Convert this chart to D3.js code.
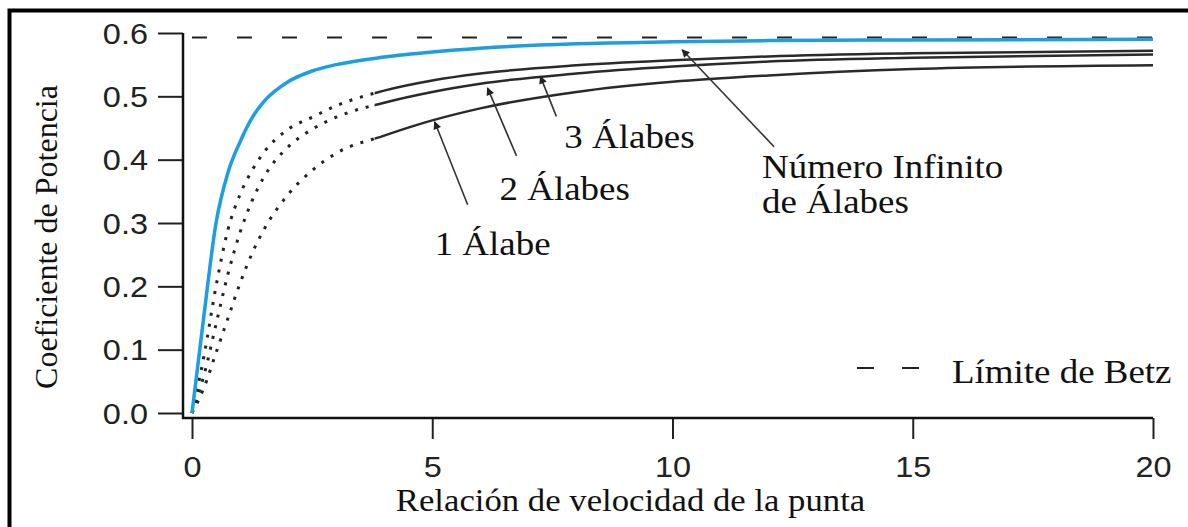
<!DOCTYPE html>
<html>
<head>
<meta charset="utf-8">
<script src="https://cdn.jsdelivr.net/npm/d3@7"></script>
<style>
  body { margin: 0; background: #fff; }
  svg { display: block; }
</style>
</head>
<body>
<svg id="chart" width="1188" height="527"></svg>
<script>
// Tip speed ratio samples and power coefficient for each rotor type
const tsr = [0, 0.25, 0.5, 0.75, 1, 1.25, 1.5, 2, 2.5, 3, 4, 5, 6, 8, 10, 12, 15, 20];
const cpInfinite = [0, 0.155, 0.300, 0.380, 0.428, 0.466, 0.492, 0.523, 0.540, 0.550, 0.562, 0.570, 0.576, 0.583, 0.586, 0.588, 0.589, 0.590];
const cpThree    = [0, 0.090, 0.200, 0.290, 0.345, 0.383, 0.412, 0.448, 0.467, 0.485, 0.509, 0.525, 0.536, 0.549, 0.557, 0.563, 0.568, 0.572];
const cpTwo      = [0, 0.060, 0.140, 0.220, 0.285, 0.335, 0.373, 0.420, 0.448, 0.467, 0.490, 0.507, 0.520, 0.536, 0.547, 0.555, 0.561, 0.566];
const cpOne      = [0, 0.040, 0.095, 0.150, 0.205, 0.252, 0.290, 0.345, 0.383, 0.410, 0.438, 0.462, 0.481, 0.507, 0.523, 0.533, 0.543, 0.549];
const betzLimit = 0.593;

const xTicks = [0, 5, 10, 15, 20];
const yTicks = [0, 0.1, 0.2, 0.3, 0.4, 0.5, 0.6];
const xTitle = "Relación de velocidad de la punta";
const yTitle = "Coeficiente de Potencia";
const legendLabel = "Límite de Betz";
// below this ratio the finite-blade curves are drawn dotted
const dottedUntil = 3.8;

const svg = d3.select("#chart");
const serif = "'Liberation Serif', 'Times New Roman', serif";
const sans = "'Liberation Sans', Arial, sans-serif";
const stretch = 1.12;

const x = d3.scaleLinear().domain([0, 20]).range([192, 1153]);
const y = d3.scaleLinear().domain([0, 0.6]).range([413, 33]);

// outer frame
svg.append("rect")
  .attr("x", 9.5).attr("y", 10.5).attr("width", 1250).attr("height", 600)
  .attr("fill", "none").attr("stroke", "#000").attr("stroke-width", 4);

const axisX0 = 183;   // y axis line position
const axisY0 = 418;   // x axis line position

// Y axis
const yAxis = svg.append("g")
  .attr("transform", `translate(${axisX0},0)`)
  .call(d3.axisLeft(y).tickValues(yTicks).tickSize(25).tickSizeOuter(0).tickFormat(d3.format(".1f")));
yAxis.select(".domain").remove();
yAxis.selectAll(".tick line").attr("stroke", "#222").attr("stroke-width", 2);
yAxis.selectAll(".tick text")
  .attr("x", null).attr("dy", null)
  .attr("transform", `translate(-35,10) scale(${stretch},1)`)
  .attr("font-family", sans).attr("font-size", 29).attr("fill", "#222");

// X axis
const xAxis = svg.append("g")
  .attr("transform", `translate(0,${axisY0})`)
  .call(d3.axisBottom(x).tickValues(xTicks).tickSize(21).tickSizeOuter(0).tickFormat(d3.format("d")));
xAxis.select(".domain").remove();
xAxis.selectAll(".tick line").attr("stroke", "#222").attr("stroke-width", 2);
xAxis.selectAll(".tick text")
  .attr("y", null).attr("dy", null)
  .attr("transform", `translate(0,59) scale(${stretch},1)`)
  .attr("font-family", sans).attr("font-size", 29).attr("fill", "#222");

// L-shaped axis lines
svg.append("path")
  .attr("d", `M${axisX0},${y(0.6)}V${axisY0}H${x(20)}`)
  .attr("fill", "none").attr("stroke", "#111").attr("stroke-width", 2.5);

// axis titles
svg.append("text")
  .attr("transform", `translate(${(x(0) + x(20)) / 2 - 42},511) scale(${stretch},1)`)
  .attr("text-anchor", "middle")
  .attr("font-family", serif).attr("font-size", 31).attr("fill", "#111")
  .text(xTitle);
svg.append("text")
  .attr("transform", `translate(57,${(y(0) + y(0.6)) / 2 + 14}) rotate(-90)`)
  .attr("text-anchor", "middle")
  .attr("font-family", serif).attr("font-size", 32).attr("fill", "#111")
  .text(yTitle);

// Betz limit
svg.append("line")
  .attr("x1", x(0)).attr("x2", x(20))
  .attr("y1", y(betzLimit)).attr("y2", y(betzLimit))
  .attr("stroke", "#222").attr("stroke-width", 2).attr("stroke-dasharray", "15,30");

// clip regions separating the dotted start from the solid rest
const defs = svg.append("defs");
defs.append("clipPath").attr("id", "clip-dotted")
  .append("rect").attr("x", 0).attr("y", 0).attr("width", x(dottedUntil)).attr("height", 527);
defs.append("clipPath").attr("id", "clip-solid")
  .append("rect").attr("x", x(dottedUntil)).attr("y", 0).attr("width", 1188).attr("height", 527);
defs.append("marker").attr("id", "arrow")
  .attr("viewBox", "0 0 10 10").attr("refX", 9).attr("refY", 5)
  .attr("markerWidth", 10).attr("markerHeight", 8).attr("markerUnits", "userSpaceOnUse")
  .attr("orient", "auto")
  .append("path").attr("d", "M0,0L10,5L0,10Z").attr("fill", "#222");

const line = d3.line()
  .x((d, i) => x(tsr[i]))
  .y(d => y(d))
  .curve(d3.curveMonotoneX);

[cpOne, cpTwo, cpThree].forEach(series => {
  svg.append("path").attr("d", line(series))
    .attr("clip-path", "url(#clip-dotted)")
    .attr("fill", "none").attr("stroke", "#222").attr("stroke-width", 3)
    .attr("stroke-dasharray", "3,8");
  svg.append("path").attr("d", line(series))
    .attr("clip-path", "url(#clip-solid)")
    .attr("fill", "none").attr("stroke", "#2a2a2a").attr("stroke-width", 2.5);
});

svg.append("path").attr("d", line(cpInfinite))
  .attr("fill", "none").attr("stroke", "#1c9ee0").attr("stroke-width", 3.5);

// curve annotations: arrow tip sits on the curve at the given ratio
const cpAt = (series, t) => d3.scaleLinear().domain(tsr).range(series)(t);
const notes = [
  { lines: ["1 Álabe"], series: cpOne, at: 5.05, tail: [33, 83], text: [0, 133], tip: 2 },
  { lines: ["2 Álabes"], series: cpTwo, at: 6.15, tail: [29, 68], text: [12, 112], tip: 5 },
  { lines: ["3 Álabes"], series: cpThree, at: 7.25, tail: [16, 40], text: [24, 72], tip: 8 },
  { lines: ["Número Infinito", "de Álabes"], series: cpInfinite, at: 10.2, tail: [92, 97], text: [80, 128], tip: 8 }
];
notes.forEach(n => {
  const tx = x(n.at), ty = y(cpAt(n.series, n.at)) + n.tip;
  svg.append("line")
    .attr("x1", tx + n.tail[0]).attr("y1", ty + n.tail[1])
    .attr("x2", tx).attr("y2", ty)
    .attr("stroke", "#333").attr("stroke-width", 1.6)
    .attr("marker-end", "url(#arrow)");
  n.lines.forEach((s, k) => {
    svg.append("text")
      .attr("transform", `translate(${tx + n.text[0]},${ty + n.text[1] + k * 35}) scale(${stretch},1)`)
      .attr("font-family", serif).attr("font-size", 33).attr("fill", "#111")
      .text(s);
  });
});

// legend
const legend = svg.append("g").attr("transform", "translate(857,368)");
legend.append("line").attr("x1", 0).attr("x2", 66).attr("y1", 0).attr("y2", 0)
  .attr("stroke", "#222").attr("stroke-width", 2).attr("stroke-dasharray", "17,28");
legend.append("text")
  .attr("transform", `translate(95,15) scale(${stretch},1)`)
  .attr("font-family", serif).attr("font-size", 33).attr("fill", "#111")
  .text(legendLabel);
</script>
</body>
</html>
